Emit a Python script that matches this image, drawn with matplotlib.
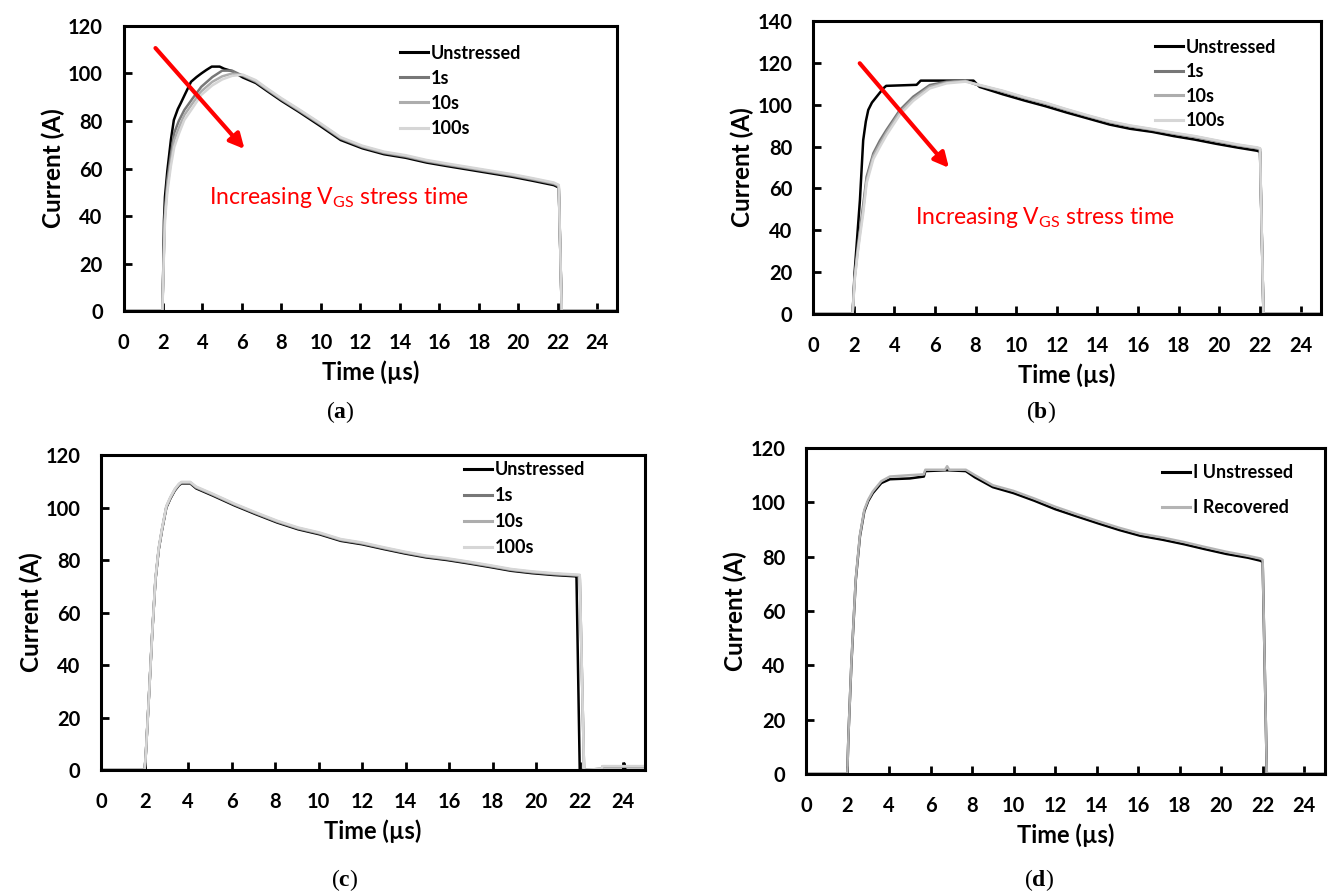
import matplotlib
matplotlib.use("Agg")
import matplotlib.pyplot as plt

plt.rcParams['font.family'] = ['Lato', 'DejaVu Sans']
plt.rcParams['mathtext.fontset'] = 'custom'
plt.rcParams['mathtext.default'] = 'regular'
plt.rcParams['mathtext.bf'] = 'Liberation Serif:bold'

# ---------------- (a) ----------------
a_t_unstressed = [0, 1.97, 2.02, 2.05, 2.1, 2.22, 2.4, 2.55, 2.75, 2.9, 3.1, 3.42, 3.7, 3.94, 4.2, 4.47,
                  4.87, 5.1, 5.5, 6.05, 6.7, 7.3, 8.0, 8.86, 9.95, 11.0, 12.1, 13.2, 14.3, 15.35, 16.4,
                  17.5, 18.6, 19.7, 20.75, 21.8, 22.05, 22.2, 25]
a_i_unstressed = [0, 0, 20, 38, 48, 59, 72, 80.4, 85, 87.5, 91, 96.5, 98.5, 100, 101.5, 102.9,
                  102.9, 102, 101, 98.3, 96, 92.5, 88.5, 84, 78, 72, 68.5, 66, 64.5, 62.5, 61,
                  59.5, 58, 56.5, 54.8, 53, 52, 0, 0]
a_t_stress = [0, 1.97, 2.02, 2.1, 2.22, 2.4, 2.57, 2.8, 3.08, 3.5, 3.94, 4.5, 5.0, 5.5, 6.05, 6.7,
              7.3, 8.0, 8.86, 9.95, 11.0, 12.1, 13.2, 14.3, 15.35, 16.4, 17.5, 18.6, 19.7, 20.75,
              21.8, 22.05, 22.2, 25]
a_i_1s = [0, 0, 18, 42, 55, 66, 75, 80, 84.6, 89.5, 94.4, 98.5, 101.2, 101.2, 99, 96.5,
          93, 89, 84.5, 78.6, 72.6, 69, 66.5, 65, 63, 61.5, 60, 58.5, 57, 55.3,
          53.5, 52.5, 0, 0]
a_i_10s = [0, 0, 17, 40, 52, 63, 72, 77, 82.5, 87.5, 92.5, 96.5, 98.8, 100, 99.3, 96.8,
           93.3, 89.3, 84.8, 78.9, 72.9, 69.3, 66.8, 65.3, 63.3, 61.8, 60.3, 58.8, 57.3, 55.6,
           53.8, 52.8, 0, 0]
a_i_100s = [0, 0, 16, 38, 50, 61, 69, 74.5, 80.4, 85.5, 91, 95, 97.5, 99, 99.5, 97.2,
            93.6, 89.6, 85.1, 79.2, 73.2, 69.6, 67.1, 65.6, 63.6, 62.1, 60.6, 59.1, 57.6, 55.9,
            54.1, 53.1, 0, 0]

# ---------------- (b) ----------------
b_t_unstressed = [0, 1.95, 2.05, 2.2, 2.31, 2.47, 2.6, 2.72, 2.9, 3.13, 3.46, 3.6, 5.1, 5.3, 7.9,
                  8.2, 9.33, 10.4, 11.43, 12.5, 13.5, 14.6, 15.6, 16.7, 17.75, 18.8, 19.85, 20.9,
                  21.85, 22.0, 22.17, 25]
b_i_unstressed = [0, 0, 20, 40, 54.5, 83, 92, 97.5, 101, 103.8, 107.8, 109, 109.5, 111.5, 111.5,
                  108.5, 105, 102, 99.3, 96.2, 93.5, 90.5, 88.5, 87, 85, 83.3, 81.3, 79.5,
                  78, 77.5, 0, 0]
b_t_stress = [0, 1.95, 2.05, 2.2, 2.31, 2.47, 2.64, 2.97, 3.3, 3.62, 4.28, 4.93, 5.75, 6.58, 7.5,
              8.06, 9.33, 10.4, 11.43, 12.5, 13.5, 14.6, 15.6, 16.7, 17.75, 18.8, 19.85, 20.9,
              21.85, 22.0, 22.17, 25]
b_i_1s = [0, 0, 18, 32, 40, 52, 65.6, 76.8, 83, 88, 97.5, 103.8, 109.4, 111, 111.5,
          109.5, 106.3, 103.2, 100.6, 97.4, 94.6, 91.7, 89.7, 88, 86.2, 84.6, 82.6, 80.6,
          79.2, 78.8, 0, 0]
b_i_10s = [0, 0, 17, 30, 38.7, 50, 64, 75.5, 81.5, 86.8, 96.5, 102.8, 108.6, 110.6, 111.3,
           109.6, 106.5, 103.4, 100.8, 97.6, 94.8, 91.9, 89.9, 88.2, 86.4, 84.8, 82.8, 80.8,
           79.4, 79.0, 0, 0]
b_i_100s = [0, 0, 16, 29, 37, 48, 62.5, 74, 80, 85.5, 95.3, 101.8, 107.8, 110.2, 111,
            109.8, 106.7, 103.6, 101, 97.8, 95, 92.1, 90.1, 88.4, 86.6, 85, 83, 81,
            79.6, 79.2, 0, 0]

# ---------------- (c) ----------------
c_t_unstressed = [0, 2.0, 2.05, 2.2, 2.35, 2.5, 2.65, 2.8, 3.0, 3.19, 3.39, 3.58, 3.7, 4.1, 4.37,
                  5.15, 6.13, 7.1, 8.09, 9.06, 10.04, 11.02, 12.0, 12.98, 13.96, 14.94, 15.9,
                  16.9, 17.9, 18.85, 19.8, 20.8, 21.8, 21.85, 22.0, 24.0, 24.05, 24.1, 25]
c_i_unstressed = [0, 0, 5, 28, 52, 72.4, 84, 91.4, 100, 103.5, 106.5, 108.5, 109.2, 109.2, 107.3,
                  104.5, 100.8, 97.5, 94.3, 91.7, 89.8, 87.3, 86, 84.2, 82.5, 81, 80,
                  78.7, 77.3, 75.9, 75, 74.3, 73.8, 73.7, 0, 0, 2.5, 0, 0]
c_t_stress = [0, 2.0, 2.05, 2.2, 2.35, 2.5, 2.65, 2.8, 3.0, 3.19, 3.39, 3.58, 3.7, 4.1, 4.37,
              5.15, 6.13, 7.1, 8.09, 9.06, 10.04, 11.02, 12.0, 12.98, 13.96, 14.94, 15.9,
              16.9, 17.9, 18.85, 19.8, 20.8, 21.8, 22.0, 22.2, 23.0, 23.05, 25]
c_i_1s = [0, 0, 5, 28, 52, 72.6, 84.2, 91.6, 100.2, 103.7, 106.7, 108.7, 109.4, 109.4, 107.6,
          104.8, 101.1, 97.8, 94.6, 92, 90.1, 87.6, 86.3, 84.5, 82.8, 81.3, 80.3,
          79, 77.6, 76.2, 75.3, 74.6, 74.1, 74, 0, 0.5, 1.3, 1.3]
c_i_10s = [0, 0, 5, 28, 52, 72.8, 84.4, 91.8, 100.4, 103.9, 106.9, 108.9, 109.6, 109.6, 107.8,
           105, 101.3, 98, 94.8, 92.2, 90.3, 87.8, 86.5, 84.7, 83, 81.5, 80.5,
           79.2, 77.8, 76.4, 75.5, 74.8, 74.3, 74.2, 0, 0.5, 1.4, 1.4]
c_i_100s = [0, 0, 5, 28, 52, 73, 84.6, 92, 100.6, 104.1, 107.1, 109.1, 109.8, 109.8, 108,
            105.2, 101.5, 98.2, 95, 92.4, 90.5, 88, 86.7, 84.9, 83.2, 81.7, 80.7,
            79.4, 78, 76.6, 75.7, 75, 74.5, 74.4, 0, 0.5, 1.5, 1.5]

# ---------------- (d) ----------------
d_t = [0, 1.99, 2.05, 2.19, 2.4, 2.6, 2.81, 3.0, 3.22, 3.63, 4.04, 5.0, 5.68, 5.75, 6.7, 6.8, 6.9,
       7.7, 8.14, 9.0, 10.0, 11.0, 12.0, 13.1, 14.1, 15.1, 16.1, 17.2, 18.2, 19.2, 20.25, 21.3,
       21.9, 22.0, 22.2, 25]
d_i_unstressed = [0, 0, 15, 40.9, 71.5, 87.5, 96.7, 100.5, 103.4, 107.1, 108.5, 108.8, 109.5, 111.5,
                  111.8, 111.8, 111.8, 111.5, 109.2, 105.6, 103.4, 100.6, 97.5, 94.7, 92.2, 89.8,
                  87.7, 86.2, 84.6, 82.8, 81, 79.6, 78.5, 78, 0, 0]
d_i_recovered = [0, 0, 15, 41.5, 72, 88, 97.2, 101, 104, 107.8, 109.5, 110, 110.3, 112,
                 112, 113.3, 112, 112, 110, 106.3, 104.2, 101.4, 98.4, 95.5, 93, 90.6,
                 88.5, 87, 85.4, 83.6, 81.8, 80.3, 79.3, 78.8, 0, 0]

xticks = list(range(0, 25, 2))
stress_labels = ['Unstressed', '1s', '10s', '100s']
stress_colors = ['#000000', '#777777', '#adadad', '#d6d6d6']

fig = plt.figure(figsize=(13.28, 8.93), dpi=100)

axes_rects = {
    'a': [0.093, 0.6517, 0.3716, 0.3192],
    'b': [0.6122, 0.6484, 0.3825, 0.3281],
    'c': [0.0761, 0.1377, 0.4096, 0.3527],
    'd': [0.6069, 0.1333, 0.3908, 0.3650],
}


def style_axes(ax, ymax):
    ax.set_xlim(0, 25)
    ax.set_ylim(0, ymax)
    ax.set_xticks(xticks)
    ax.set_yticks(list(range(0, ymax + 1, 20)))
    for s in ax.spines.values():
        s.set_linewidth(2.2)
        s.set_color('black')
    ax.tick_params(axis='both', direction='in', length=6, width=2, labelsize=14.5,
                   top=False, right=False)
    ax.tick_params(axis='x', pad=16)
    ax.tick_params(axis='y', pad=15)
    for lbl in ax.get_xticklabels() + ax.get_yticklabels():
        lbl.set_fontweight('bold')
    ax.set_xlabel('Time (µs)', fontsize=17, fontweight='bold', labelpad=5)
    ax.set_ylabel('Current (A)', fontsize=17.5, fontweight='bold', labelpad=2)


def add_legend(ax, anchor, spacing):
    leg = ax.legend(loc='upper left', bbox_to_anchor=anchor, frameon=False, borderpad=0,
                    borderaxespad=0, handlelength=1.55, handletextpad=0.15,
                    labelspacing=spacing, prop={'family': 'Lato', 'weight': 'bold', 'size': 13})
    for h in leg.get_lines():
        h.set_linewidth(2.2)
    return leg


# (a)
ax = fig.add_axes(axes_rects['a'])
ax.plot(a_t_unstressed, a_i_unstressed, color=stress_colors[0], lw=1.8, label=stress_labels[0])
ax.plot(a_t_stress, a_i_1s, color=stress_colors[1], lw=1.8, label=stress_labels[1])
ax.plot(a_t_stress, a_i_10s, color=stress_colors[2], lw=1.8, label=stress_labels[2])
ax.plot(a_t_stress, a_i_100s, color=stress_colors[3], lw=1.8, label=stress_labels[3])
style_axes(ax, 120)
add_legend(ax, (0.56, 0.935), 0.45)
ax.annotate('', xy=(6.13, 68.2), xytext=(1.62, 110.7),
            arrowprops=dict(arrowstyle='-|>', color='#ff0000', lw=3, mutation_scale=22,
                            shrinkA=0, shrinkB=0))
ax.text(4.35, 47.6, 'Increasing V$_{GS}$ stress time', color='#ff0000', fontsize=16.5,
        ha='left', va='center')

# (b)
ax = fig.add_axes(axes_rects['b'])
ax.plot(b_t_unstressed, b_i_unstressed, color=stress_colors[0], lw=1.8, label=stress_labels[0])
ax.plot(b_t_stress, b_i_1s, color=stress_colors[1], lw=1.8, label=stress_labels[1])
ax.plot(b_t_stress, b_i_10s, color=stress_colors[2], lw=1.8, label=stress_labels[2])
ax.plot(b_t_stress, b_i_100s, color=stress_colors[3], lw=1.8, label=stress_labels[3])
style_axes(ax, 140)
add_legend(ax, (0.673, 0.94), 0.42)
ax.annotate('', xy=(6.69, 69.8), xytext=(2.3, 119.8),
            arrowprops=dict(arrowstyle='-|>', color='#ff0000', lw=3, mutation_scale=22,
                            shrinkA=0, shrinkB=0))
ax.text(5.0, 45.9, 'Increasing V$_{GS}$ stress time', color='#ff0000', fontsize=16.5,
        ha='left', va='center')

# (c)
ax = fig.add_axes(axes_rects['c'])
ax.plot(c_t_unstressed, c_i_unstressed, color=stress_colors[0], lw=1.8, label=stress_labels[0])
ax.plot(c_t_stress, c_i_1s, color=stress_colors[1], lw=1.8, label=stress_labels[1])
ax.plot(c_t_stress, c_i_10s, color=stress_colors[2], lw=1.8, label=stress_labels[2])
ax.plot(c_t_stress, c_i_100s, color=stress_colors[3], lw=1.8, label=stress_labels[3])
style_axes(ax, 120)
add_legend(ax, (0.667, 0.98), 0.5)

# (d)
ax = fig.add_axes(axes_rects['d'])
ax.plot(d_t, d_i_unstressed, color='#000000', lw=1.8, label='I Unstressed')
ax.plot(d_t, d_i_recovered, color='#b4b4b4', lw=1.8, label='I Recovered')
style_axes(ax, 120)
add_legend(ax, (0.686, 0.95), 1.0)

# panel captions
for tag, (x, y) in {'a': (340, 412), 'b': (1041, 412), 'c': (345, 880), 'd': (1039, 880)}.items():
    fig.text(x / 1328, 1 - y / 893, '($\\mathbf{' + tag + '}$)', fontsize=17,
             family='Liberation Serif', ha='center', va='center')

fig.savefig('out.png', dpi=100)
